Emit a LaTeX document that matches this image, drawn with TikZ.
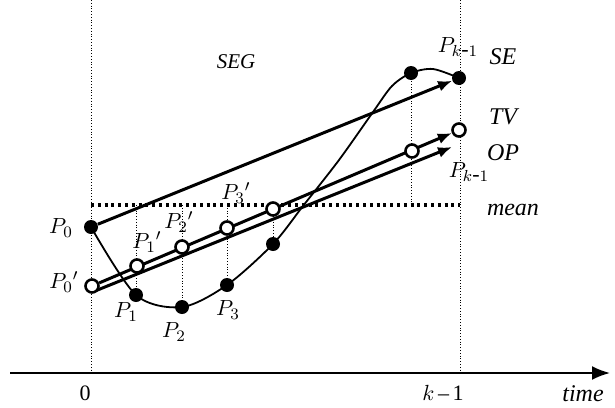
\documentclass[tikz,border=0pt]{standalone}
\usepackage{fontspec}
\setmainfont{Liberation Serif}
\usetikzlibrary{arrows.meta,backgrounds}

\tikzset{
    filled/.style={circle, fill=black, inner sep=0pt, minimum size=7pt},
    hollow/.style={circle, draw=black, fill=white, line width=1.3pt, inner sep=0pt, minimum size=6.5pt},
    guide/.style={densely dotted, line width=0.4pt},
    vec/.style={line width=1.5pt, -{Latex[length=7pt,width=5.5pt]}},
    lbl/.style={font=\fontsize{11}{13}\selectfont},
    tag/.style={font=\fontsize{12}{14}\selectfont\itshape},
}

\begin{document}
\begin{tikzpicture}[x=0.5pt, y=-0.5pt]
    \useasboundingbox (0,0) rectangle (615,407);

    % signal points
    \node[filled] (p0) at (91,227) {};
    \node[filled] (p1) at (136,295) {};
    \node[filled] (p2) at (182,307) {};
    \node[filled] (p3) at (227,285) {};
    \node[filled] (p4) at (273,244) {};
    \node[filled] (p5) at (411,73) {};
    \node[filled] (pk) at (459,78) {};

    \node[hollow] (q0) at (92,286) {};
    \node[hollow] (q1) at (137,266) {};
    \node[hollow] (q2) at (182,247) {};
    \node[hollow] (q3) at (227,228) {};
    \node[hollow] (q4) at (273,209) {};
    \node[hollow] (q5) at (412,151) {};
    \node[hollow] (qk) at (459,130) {};

    \coordinate (top0) at (91,0);
    \coordinate (bot0) at (91,373);
    \coordinate (topk) at (460,0);
    \coordinate (botk) at (460,373);
    \coordinate (m0) at (91,205);
    \coordinate (m1) at (136,205);
    \coordinate (m2) at (182,205);
    \coordinate (m3) at (227,205);
    \coordinate (m4) at (273,205);
    \coordinate (m5) at (411,205);
    \coordinate (mk) at (460,205);
    \coordinate (c1) at (303,206);
    \coordinate (c2) at (339,160);
    \coordinate (c3) at (373,112);
    \coordinate (c4) at (392,86);
    \coordinate (c5) at (433,69);
    \coordinate (o0) at (95,291);
    \coordinate (ok) at (452,147);
    \coordinate (tstart) at (10,373);
    \coordinate (tend) at (610,373);

    \begin{scope}[on background layer]
        \draw[guide] (top0) -- (bot0);
        \draw[guide] (topk) -- (botk);
        \foreach \i in {1,...,5}
            \draw[guide] (m\i) -- (p\i.center);
        \draw[line width=1.6pt, dash pattern=on 1.5pt off 1.9pt] (m0) -- (mk);

        \draw[line width=0.9pt] plot[smooth, tension=0.5] coordinates
            {(p0.center) (p1.center) (p2.center) (p3.center) (p4.center) (c1) (c2) (c3) (c4) (p5.center) (c5) (pk.center)};

        \draw[vec] (p0) -- (pk);
        \draw[vec] (q0) -- (qk);
        \draw[vec] (o0) -- (ok);

        \draw[line width=1pt, -{Latex[length=9pt,width=7pt]}] (tstart) -- (tend);
    \end{scope}

    \node[lbl] (lp0) at (61,228) {$P_0$};
    \node[lbl] (lq0) at (64,282) {$P_0{}'$};
    \node[lbl] (lp1) at (126,312) {$P_1$};
    \node[lbl] (lq1) at (147,242) {$P_1{}'$};
    \node[lbl] (lp2) at (174,332) {$P_2$};
    \node[lbl] (lq2) at (179,222) {$P_2{}'$};
    \node[lbl] (lp3) at (228,310) {$P_3$};
    \node[lbl] (lq3) at (236,193) {$P_3{}'$};
    \node[lbl] (lpk) at (458,47) {$P_{k\mbox{-}1}$};
    \node[lbl] (lqk) at (469,172) {$P_{k\mbox{-}1}$};

    \node[tag] (se) at (503,57) {SE};
    \node[tag] (tv) at (503,117) {TV};
    \node[tag] (op) at (503,153) {OP};
    \node[tag] (mean) at (513,210) {mean};
    \node[tag, font=\fontsize{10.5}{12}\selectfont\itshape] (seg) at (236,62) {SEG};

    \node[lbl] (t0) at (85,393) {0};
    \node[lbl] (tk) at (443,393) {$k$\,--\,1};
    \node[tag] (time) at (583,394) {time};
\end{tikzpicture}
\end{document}
